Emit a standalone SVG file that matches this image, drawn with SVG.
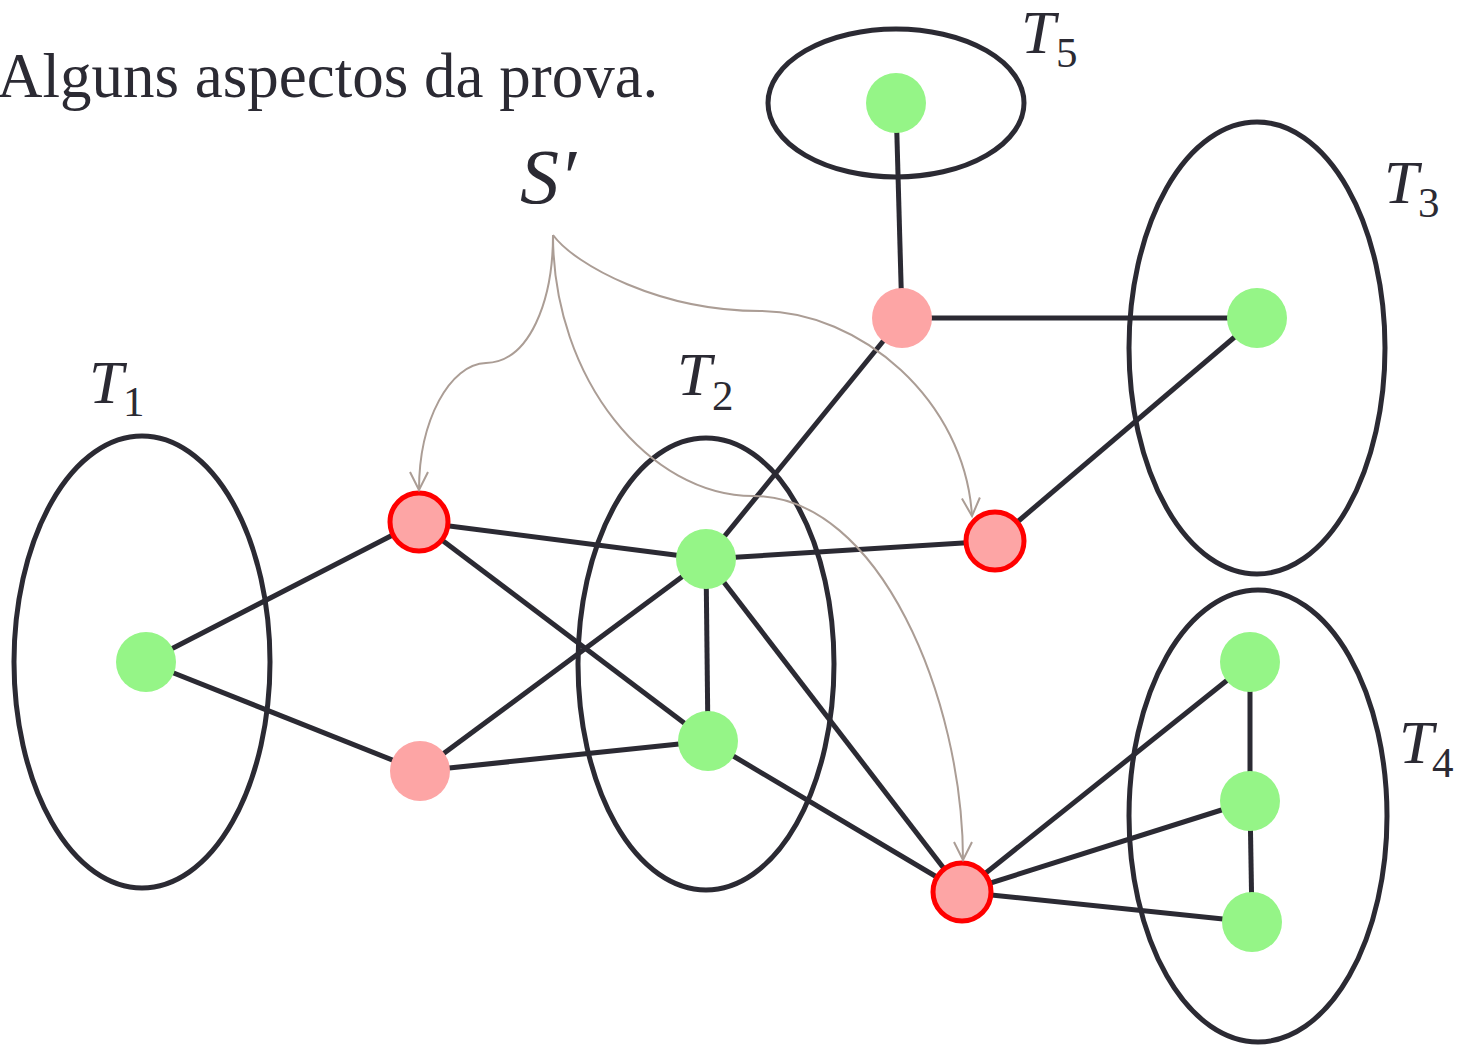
<svg xmlns="http://www.w3.org/2000/svg" width="1462" height="1046" viewBox="0 0 1462 1046">
<style>
.set{fill:none;stroke:#2b2a33;stroke-width:5}
.edge{stroke:#2b2a33;stroke-width:5;fill:none}
.g{fill:#95f587}
.p{fill:#fda5a5}
.r{fill:#fda5a5;stroke:#ff0000;stroke-width:5}
.curve{fill:none;stroke:#ab9d95;stroke-width:2}
.lbl{font-family:"Liberation Serif",serif;font-style:italic;font-size:62px;fill:#2b2a33}
.sub{font-family:"Liberation Serif",serif;font-style:normal;font-size:43px;fill:#2b2a33}
.title{font-family:"Liberation Serif",serif;font-size:63px;fill:#2b2a33}
</style>
<defs>
<marker id="arr" markerUnits="userSpaceOnUse" markerWidth="24" markerHeight="24" viewBox="-22 -12 24 24" refX="0" refY="0" orient="auto">
<path d="M-18,-9 L0,0 L-18,9" fill="none" stroke="#ab9d95" stroke-width="2"/>
</marker>
</defs>
<rect width="1462" height="1046" fill="#ffffff"/>
<text class="title" x="-3" y="97">Alguns aspectos da prova.</text>

<g id="sets">
<g id="T1"><ellipse class="set" cx="142" cy="662" rx="128" ry="226"/><text class="lbl" x="89" y="403">T</text><text class="sub" x="123" y="416">1</text></g>
<g id="T2"><ellipse class="set" cx="706" cy="664" rx="128" ry="226"/><text class="lbl" x="677" y="395">T</text><text class="sub" x="712" y="410">2</text></g>
<g id="T3"><ellipse class="set" cx="1257" cy="348" rx="128" ry="226"/><text class="lbl" x="1384" y="203">T</text><text class="sub" x="1418" y="217">3</text></g>
<g id="T4"><ellipse class="set" cx="1258" cy="816" rx="129" ry="226"/><text class="lbl" x="1399" y="763">T</text><text class="sub" x="1432" y="777">4</text></g>
<g id="T5"><ellipse class="set" cx="896" cy="103" rx="128" ry="74"/><text class="lbl" x="1021" y="53">T</text><text class="sub" x="1056" y="67">5</text></g>
</g>

<g id="connectors">
<line class="edge" x1="896" y1="103" x2="902" y2="318"/>
<line class="edge" x1="902" y1="318" x2="1257" y2="318"/>
<line class="edge" x1="902" y1="318" x2="706" y2="559"/>
<line class="edge" x1="1257" y1="318" x2="995" y2="541"/>
<line class="edge" x1="418" y1="522" x2="706" y2="559"/>
<line class="edge" x1="418" y1="522" x2="146" y2="662"/>
<line class="edge" x1="418" y1="522" x2="708" y2="741"/>
<line class="edge" x1="706" y1="559" x2="995" y2="541"/>
<line class="edge" x1="706" y1="559" x2="708" y2="741"/>
<line class="edge" x1="706" y1="559" x2="420" y2="771"/>
<line class="edge" x1="706" y1="559" x2="962" y2="892"/>
<line class="edge" x1="146" y1="662" x2="420" y2="771"/>
<line class="edge" x1="420" y1="771" x2="708" y2="741"/>
<line class="edge" x1="708" y1="741" x2="962" y2="892"/>
<line class="edge" x1="962" y1="892" x2="1250" y2="662"/>
<line class="edge" x1="962" y1="892" x2="1250" y2="801"/>
<line class="edge" x1="962" y1="892" x2="1252" y2="922"/>
<line class="edge" x1="1250" y1="662" x2="1250" y2="801"/>
<line class="edge" x1="1250" y1="801" x2="1252" y2="922"/>
</g>

<g id="nodes">
<circle id="n-t5" class="g" cx="896" cy="103" r="30"/>
<circle id="n-p1" class="p" cx="902" cy="318" r="30"/>
<circle id="n-t3" class="g" cx="1257" cy="318" r="30"/>
<circle id="n-r1" class="r" cx="419" cy="522" r="29"/>
<circle id="n-t2a" class="g" cx="706" cy="559" r="30"/>
<circle id="n-r2" class="r" cx="995" cy="541" r="29"/>
<circle id="n-t1" class="g" cx="146" cy="662" r="30"/>
<circle id="n-p2" class="p" cx="420" cy="771" r="30"/>
<circle id="n-t2b" class="g" cx="708" cy="741" r="30"/>
<circle id="n-r3" class="r" cx="962" cy="892" r="29"/>
<circle id="n-t4a" class="g" cx="1250" cy="662" r="30"/>
<circle id="n-t4b" class="g" cx="1250" cy="801" r="30"/>
<circle id="n-t4c" class="g" cx="1252" cy="922" r="30"/>
</g>

<g id="sprime">
<text x="520" y="203" font-family="Liberation Serif, serif" font-style="italic" font-size="78" fill="#2b2a33">S′</text>
<path class="curve" marker-end="url(#arr)" d="M553,235 C553,300 530,362 486,363 C450,364 419,420 419,490"/>
<path class="curve" marker-end="url(#arr)" d="M553,235 C575,265 660,311 760,311 C860,311 965,400 972,516"/>
<path class="curve" marker-end="url(#arr)" d="M553,235 C553,380 650,496 753,496 C880,496 963,700 963,860"/>
</g>
</svg>
